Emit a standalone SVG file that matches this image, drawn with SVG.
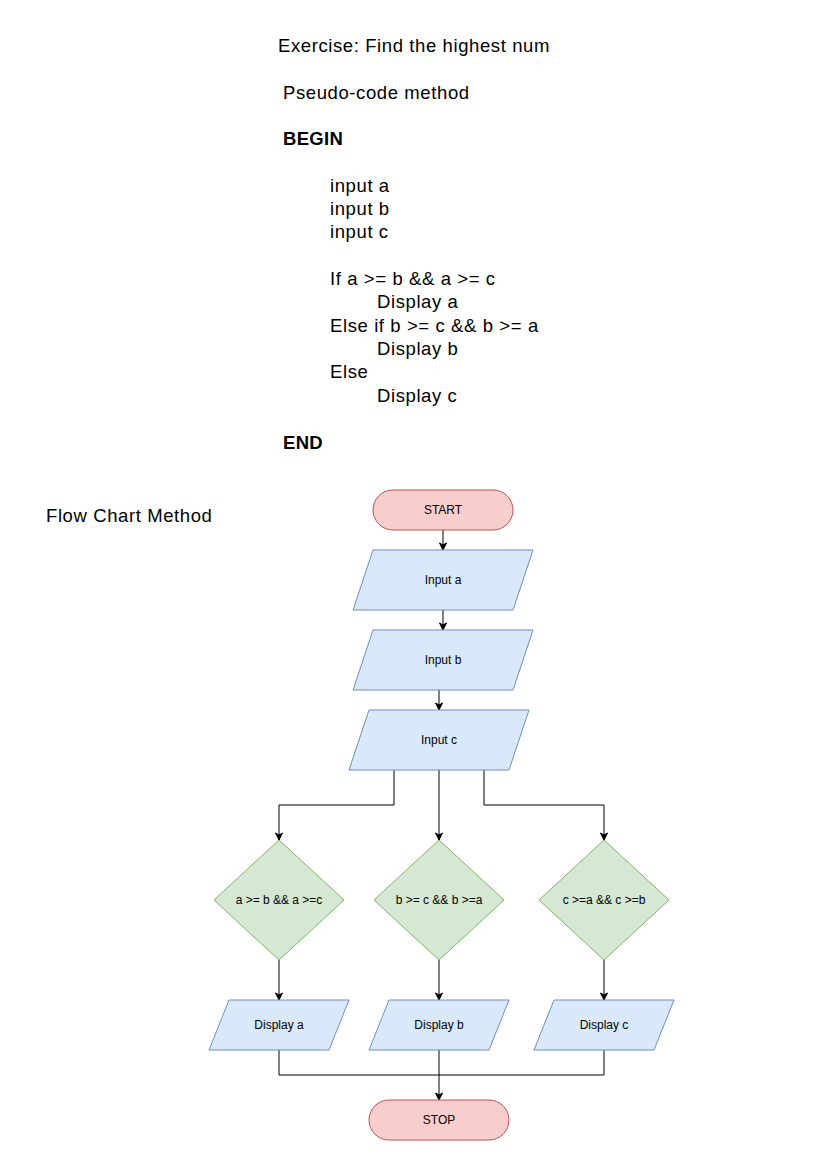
<svg xmlns="http://www.w3.org/2000/svg" width="827" height="1169" viewBox="0 0 827 1169">
<defs>
<marker id="arr" markerWidth="10" markerHeight="10" refX="8" refY="5" orient="auto" markerUnits="userSpaceOnUse">
<path d="M1,1.5 L8,5 L1,8.5 L3,5 Z" fill="#000" stroke="#000" stroke-width="1"/>
</marker>
</defs>
<style>
.t{font-family:"Liberation Sans",Arial,Helvetica,sans-serif;fill:#000}
.big{font-size:18.5px;letter-spacing:0.6px}
.b{font-weight:bold;letter-spacing:0.3px}
.n{font-size:12px;text-anchor:middle}
.term{fill:#f8cecc;stroke:#b85450;stroke-width:1}
.io{fill:#dae8fc;stroke:#6c8ebf;stroke-width:1}
.dec{fill:#d5e8d4;stroke:#82b366;stroke-width:1}
.c{fill:none;stroke:#000;stroke-width:1;marker-end:url(#arr)}
.l{fill:none;stroke:#000;stroke-width:1}
</style>
<rect width="827" height="1169" fill="#fff"/>
<g id="title">
<text class="t big" x="278" y="52">Exercise: Find the highest num</text>
</g>
<g id="pseudocode">
<text class="t big" x="283" y="98.5">Pseudo-code method</text>
<text class="t big b" x="283" y="145">BEGIN</text>
<text class="t big" x="330" y="191.7">input a</text>
<text class="t big" x="330" y="215">input b</text>
<text class="t big" x="330" y="238.3">input c</text>
<text class="t big" x="330" y="285">If a &gt;= b &amp;&amp; a &gt;= c</text>
<text class="t big" x="377" y="308.3">Display a</text>
<text class="t big" x="330" y="331.7">Else if b &gt;= c &amp;&amp; b &gt;= a</text>
<text class="t big" x="377" y="355">Display b</text>
<text class="t big" x="330" y="378.3">Else</text>
<text class="t big" x="377" y="401.7">Display c</text>
<text class="t big b" x="283" y="448.5">END</text>
</g>
<g id="flowchart-label">
<text class="t big" x="46" y="521.5">Flow Chart Method</text>
</g>
<g id="connectors">
<path class="c" d="M443,530 L443,550"/>
<path class="c" d="M443,610 L443,630"/>
<path class="c" d="M439,690 L439,710"/>
<path class="c" d="M394,770 L394,805 L279,805 L279,840"/>
<path class="c" d="M439,770 L439,840"/>
<path class="c" d="M484,770 L484,805 L604,805 L604,840"/>
<path class="c" d="M279,960 L279,1000"/>
<path class="c" d="M439,960 L439,1000"/>
<path class="c" d="M604,960 L604,1000"/>
<path class="l" d="M279,1050 L279,1075 L439,1075"/>
<path class="l" d="M604,1050 L604,1075 L439,1075"/>
<path class="c" d="M439,1050 L439,1100"/>
</g>
<g id="start">
<rect class="term" x="373" y="490" width="140" height="40" rx="20" ry="20"/>
<text class="t n" x="443" y="514">START</text>
</g>
<g id="input-a">
<polygon class="io" points="373,550 533,550 513,610 353,610"/>
<text class="t n" x="443" y="584">Input a</text>
</g>
<g id="input-b">
<polygon class="io" points="373,630 533,630 513,690 353,690"/>
<text class="t n" x="443" y="664">Input b</text>
</g>
<g id="input-c">
<polygon class="io" points="369,710 529,710 509,770 349,770"/>
<text class="t n" x="439" y="744">Input c</text>
</g>
<g id="dec-a">
<polygon class="dec" points="279,840 344,900 279,960 214,900"/>
<text class="t n" x="279" y="904">a &gt;= b &amp;&amp; a &gt;=c</text>
</g>
<g id="dec-b">
<polygon class="dec" points="439,840 504,900 439,960 374,900"/>
<text class="t n" x="439" y="904">b &gt;= c &amp;&amp; b &gt;=a</text>
</g>
<g id="dec-c">
<polygon class="dec" points="604,840 669,900 604,960 539,900"/>
<text class="t n" x="604" y="904">c &gt;=a &amp;&amp; c &gt;=b</text>
</g>
<g id="display-a">
<polygon class="io" points="229,1000 349,1000 329,1050 209,1050"/>
<text class="t n" x="279" y="1029">Display a</text>
</g>
<g id="display-b">
<polygon class="io" points="389,1000 509,1000 489,1050 369,1050"/>
<text class="t n" x="439" y="1029">Display b</text>
</g>
<g id="display-c">
<polygon class="io" points="554,1000 674,1000 654,1050 534,1050"/>
<text class="t n" x="604" y="1029">Display c</text>
</g>
<g id="stop">
<rect class="term" x="369" y="1100" width="140" height="40" rx="20" ry="20"/>
<text class="t n" x="439" y="1124">STOP</text>
</g>
</svg>
